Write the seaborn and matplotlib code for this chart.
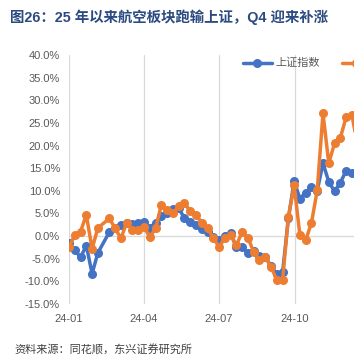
import matplotlib
matplotlib.use("Agg")
import matplotlib.pyplot as plt
import matplotlib.dates as mdates
from matplotlib.lines import Line2D
import seaborn as sns
import pandas as pd

# weekly points (week start), cumulative change since start of 2024, %
weeks = [
    "2024-01-01", "2024-01-08", "2024-01-15", "2024-01-22", "2024-01-29",
    "2024-02-05", "2024-02-19", "2024-02-26", "2024-03-04", "2024-03-11",
    "2024-03-18", "2024-03-25", "2024-04-01", "2024-04-08", "2024-04-15",
    "2024-04-22", "2024-04-29", "2024-05-06", "2024-05-13", "2024-05-20",
    "2024-05-27", "2024-06-03", "2024-06-10", "2024-06-17", "2024-06-24",
    "2024-07-01", "2024-07-08", "2024-07-15", "2024-07-22", "2024-07-29",
    "2024-08-05", "2024-08-12", "2024-08-19", "2024-08-26", "2024-09-02",
    "2024-09-09", "2024-09-16", "2024-09-23", "2024-09-30", "2024-10-07",
    "2024-10-14", "2024-10-21", "2024-10-28", "2024-11-04", "2024-11-11",
    "2024-11-18", "2024-11-25", "2024-12-02", "2024-12-09", "2024-12-16",
]
sh_index = [
    -1.5, -3.1, -4.7, -2.1, -8.3, -3.7, 0.9, 1.7, 2.4, 2.9,
    2.6, 3.0, 3.1, 1.8, 3.0, 4.4, 5.0, 6.0, 6.1, 4.0,
    3.1, 2.4, 1.5, 0.8, -0.3, -0.9, 0.1, 0.6, -2.5, -2.5,
    -3.7, -3.4, -4.4, -4.6, -6.6, -8.4, -8.0, 3.9, 12.1, 8.3,
    9.6, 10.8, 10.0, 16.1, 12.0, 9.9, 11.8, 14.4, 14.0, 13.2,
]
airline = [
    -2.4, 0.2, 1.0, 4.7, -2.8, 1.8, 3.9, 1.7, -0.5, 3.0,
    1.3, 1.3, 2.0, -0.2, 1.7, 6.9, 5.7, 5.0, 6.6, 7.3,
    5.5, 4.6, 3.0, 1.7, -0.4, -2.4, -0.4, 0.2, -2.0, 0.9,
    -0.4, -3.5, -5.3, -4.6, -6.8, -9.7, -9.7, 4.2, 11.2, 0.2,
    -0.9, 2.9, 10.1, 27.1, 16.1, 20.5, 21.7, 26.2, 26.8, 20.0,
]
series_names = ["上证指数", "申万航空机场"]
y_ticks = [-15, -10, -5, 0, 5, 10, 15, 20, 25, 30, 35, 40]
x_ticks = ["2024-01-01", "2024-04-01", "2024-07-01", "2024-10-01"]

df = pd.DataFrame({
    "date": pd.to_datetime(weeks * 2),
    "value": sh_index + airline,
    "series": [series_names[0]] * len(weeks) + [series_names[1]] * len(weeks),
})

sns.set_style("white")
plt.rcParams["font.family"] = ["Liberation Sans", "Noto Sans CJK SC", "DejaVu Sans"]

colors = ["#4472C4", "#ED7D31"]
gray = "#D9D9D9"
lw, ms = 2.5, 6.5

fig = plt.figure(figsize=(3.54, 3.55), dpi=100)
ax = fig.add_axes([69 / 354, 51 / 355, 301 / 354, 249 / 355])

sns.lineplot(
    data=df, x="date", y="value", hue="series", palette=colors,
    marker="o", markersize=ms, markeredgewidth=0, linewidth=lw,
    legend=False, ax=ax,
)

ax.set_xlim(pd.Timestamp("2024-01-01"), pd.Timestamp("2024-12-31"))
ax.set_ylim(-15, 40)
ax.set_yticks(y_ticks)
ax.set_yticklabels([f"{v:.1f}%" for v in y_ticks])
ax.set_xticks(pd.to_datetime(x_ticks))
ax.xaxis.set_major_formatter(mdates.DateFormatter("%y-%m"))
ax.set_xlabel("")
ax.set_ylabel("")

ax.grid(axis="x", color=gray, linewidth=0.9)
ax.grid(axis="y", visible=False)
ax.axhline(0, color=gray, linewidth=0.9, zorder=0)
for s in ax.spines.values():
    s.set_visible(False)
ax.tick_params(axis="y", length=0, labelsize=8, labelcolor="#595959", pad=6.5)
ax.tick_params(axis="x", length=0, labelsize=8, labelcolor="#595959", pad=7)

handles = [
    Line2D([], [], color=c, linewidth=lw, marker="o", markersize=ms,
           markeredgewidth=0, label=n)
    for c, n in zip(colors, series_names)
]
ax.legend(
    handles=handles, ncol=2, loc="upper left", bbox_to_anchor=(0.578, 0.99),
    frameon=False, fontsize=8, handlelength=2.6, handletextpad=0.3,
    columnspacing=2.0, borderpad=0, borderaxespad=0, labelcolor="#595959",
)

fig.text(10 / 354, 1 - 17 / 355, "图26：25 年以来航空板块跑输上证，Q4 迎来补涨",
         fontsize=10.4, fontweight="bold", color="#2B4A80", va="center", ha="left")
fig.text(14 / 354, 1 - 350 / 355, "资料来源：同花顺，东兴证券研究所",
         fontsize=8, style="italic", color="#404040", va="center", ha="left")

fig.savefig("out.png", dpi=100)
